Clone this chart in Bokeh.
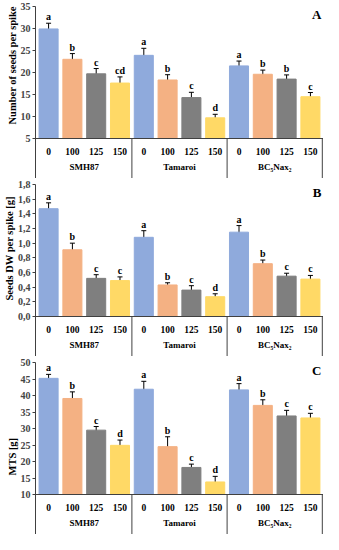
from bokeh.plotting import figure
from bokeh.models import (ColumnDataSource, FactorRange, Range1d, FixedTicker,
                          Whisker, TeeHead, Title, Span)
from bokeh.layouts import column
from bokeh.core.properties import value
from bokeh.embed import file_html
from bokeh.resources import INLINE

genotypes = ["SMH87", "Tamaroi", "BC₅Nax₂"]
doses = ["0", "100", "125", "150"]
colors = ["#8FAADC", "#F4B183", "#7F7F7F", "#FFD966"]

seeds_mean = [29.9, 23.0, 19.7, 17.6, 23.9, 18.3, 14.3, 9.7, 21.5, 19.6, 18.5, 14.5]
seeds_err = [1.3, 1.3, 1.2, 1.4, 1.6, 1.2, 1.2, 0.8, 1.1, 0.95, 0.95, 0.95]
seeds_letters = ["a", "b", "c", "cd", "a", "b", "c", "d", "a", "b", "b", "c"]
seeds_ticks = [5, 10, 15, 20, 25, 30, 35]

dw_mean = [1.47, 0.91, 0.52, 0.49, 1.08, 0.43, 0.36, 0.27, 1.15, 0.72, 0.55, 0.51]
dw_err = [0.08, 0.09, 0.05, 0.05, 0.09, 0.03, 0.06, 0.04, 0.09, 0.05, 0.04, 0.05]
dw_letters = ["a", "b", "c", "c", "a", "b", "c", "d", "a", "b", "c", "c"]
dw_ticks = [0.0, 0.2, 0.4, 0.6, 0.8, 1.0, 1.2, 1.4, 1.6, 1.8]

mts_mean = [45.2, 39.1, 29.5, 24.9, 41.9, 24.5, 18.2, 13.8, 41.7, 37.0, 33.8, 33.2]
mts_err = [1.2, 2.0, 1.1, 1.6, 2.4, 3.0, 1.0, 1.7, 1.9, 1.7, 1.7, 1.4]
mts_letters = ["a", "b", "c", "d", "a", "b", "c", "d", "a", "b", "c", "c"]
mts_ticks = [10, 15, 20, 25, 30, 35, 40, 45, 50]

FONT = "Liberation Serif"
LINE = "#404040"
VAL_H = 132      # pixel height of the value area
AX_H = 40        # pixel height of the category label area
TOP = 6


def panel(mean, err, letters, ylabel, label_offset, ticks, tick_fmt, tag):
    factors = [(g, d) for g in genotypes for d in doses]
    ystart, yend = ticks[0], ticks[-1]
    drop = AX_H * (yend - ystart) / VAL_H
    src = ColumnDataSource(dict(
        x=factors, top=mean,
        upper=[m + e for m, e in zip(mean, err)],
        lower=[m - e for m, e in zip(mean, err)],
        color=colors * len(genotypes), letter=letters))
    p = figure(x_range=FactorRange(*factors, group_padding=0, factor_padding=0,
                                   range_padding=0.05,
                                   range_padding_units="absolute"),
               y_range=Range1d(ystart - drop, yend),
               width=323, height=TOP + VAL_H + AX_H,
               output_backend="svg", toolbar_location=None,
               min_border_left=35, min_border_right=0, min_border_top=TOP,
               min_border_bottom=0)
    p.outline_line_color = None
    p.xgrid.visible = False
    p.ygrid.visible = False
    p.xaxis.visible = False
    p.vbar(x="x", top="top", bottom=ystart, width=0.8, color="color", source=src)
    p.add_layout(Whisker(source=src, base="x", upper="upper", lower="lower",
                         line_color="black", line_width=1,
                         upper_head=TeeHead(size=5, line_color="black"),
                         lower_head=TeeHead(size=5, line_color="black")))
    p.text(x="x", y="upper", text="letter", source=src, text_align="center",
           text_baseline="bottom", y_offset=-1, text_font=value(FONT),
           text_font_style="bold", text_font_size="10px", text_color="black")
    p.text(x=[factors[-1]], y=[yend], text=[tag], text_align="right",
           text_baseline="top", x_offset=11, text_font=value(FONT),
           text_font_style="bold", text_font_size="13px", text_color="black")

    # category axis drawn inside the frame, below the value area
    p.add_layout(Span(location=ystart, dimension="width", line_color=LINE,
                      line_width=1))
    p.text(x=factors, y=[ystart] * len(factors),
           text=[d for _, d in factors], text_align="center",
           text_baseline="middle", y_offset=13, text_font=value(FONT),
           text_font_style="bold", text_font_size="9.5px", text_color="black")
    p.text(x=genotypes, y=[ystart] * len(genotypes), text=genotypes,
           text_align="center", text_baseline="middle", y_offset=28,
           text_font=value(FONT), text_font_style="bold",
           text_font_size="9px", text_color="black")
    seps = [len(doses) * (i + 1) for i in range(len(genotypes))]
    p.segment(x0=seps, x1=seps, y0=[ystart] * len(seps),
              y1=[ystart - drop] * len(seps), line_color=LINE, line_width=1)

    ya = p.yaxis[0]
    ya.ticker = FixedTicker(ticks=ticks)
    ya.major_label_overrides = {t: tick_fmt(t) for t in ticks}
    ya.minor_tick_line_color = None
    ya.major_tick_in = 0
    ya.major_tick_out = 3
    ya.axis_line_color = LINE
    ya.major_tick_line_color = LINE
    ya.major_label_text_font = FONT
    ya.major_label_text_font_style = "bold"
    ya.major_label_text_font_size = "10px"
    ya.major_label_standoff = 2
    p.add_layout(Title(text=ylabel, align="left", offset=label_offset,
                       text_font=FONT, text_font_style="bold",
                       text_font_size="10.5px", text_color="black",
                       standoff=0), "left")
    return p


pa = panel(seeds_mean, seeds_err, seeds_letters, "Number of seeds per spike", 54,
           seeds_ticks, lambda t: str(t), "A")
pb = panel(dw_mean, dw_err, dw_letters, "Seeds DW per spike [g]", 56,
           dw_ticks, lambda t: f"{t:.1f}".replace(".", ","), "B")
pc = panel(mts_mean, mts_err, mts_letters, "MTS [g]", 59,
           mts_ticks, lambda t: str(t), "C")

layout = column(pa, pb, pc, spacing=0)
open("out.html", "w").write(file_html(layout, INLINE))
